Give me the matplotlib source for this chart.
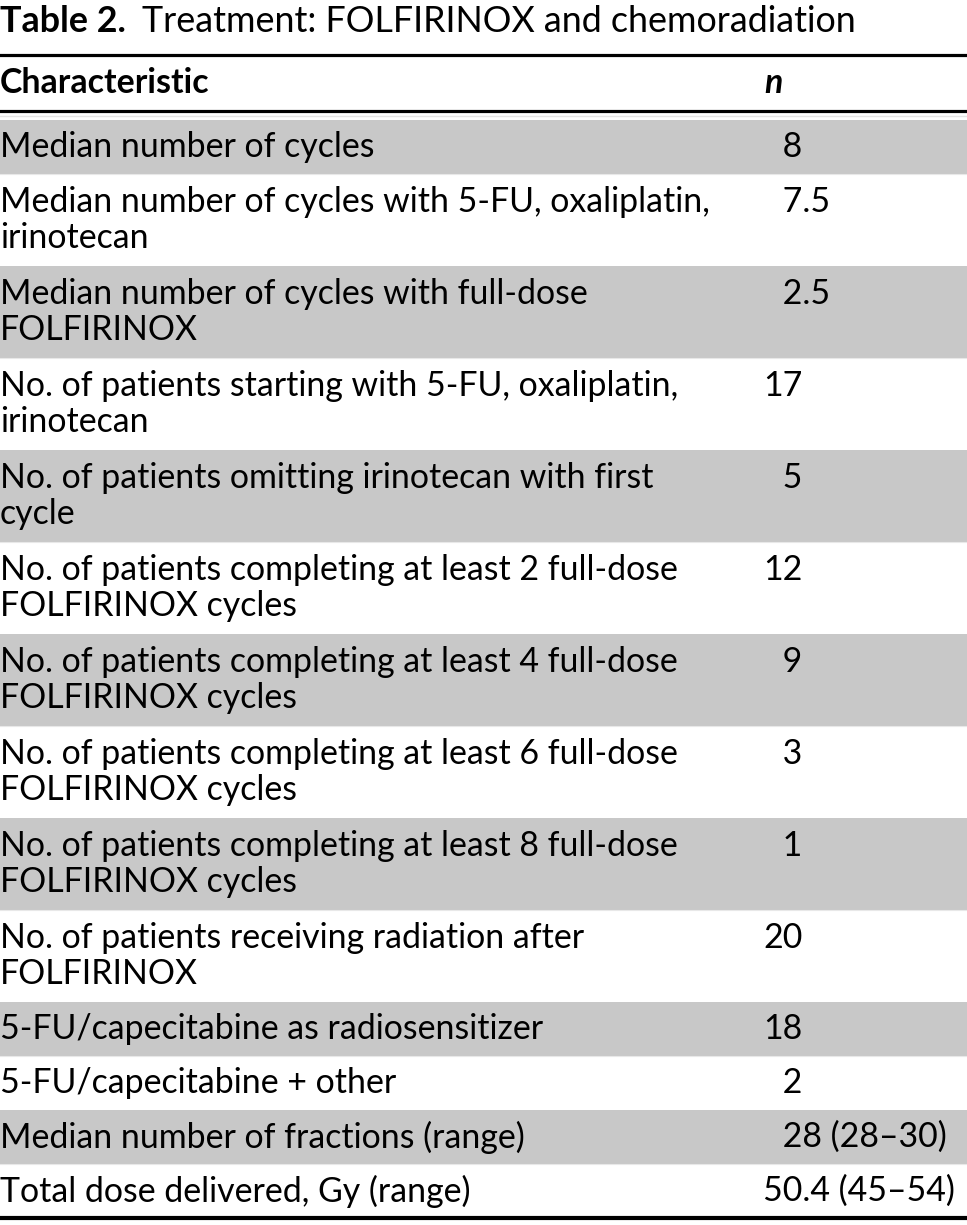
import matplotlib
matplotlib.use('Agg')
import matplotlib.pyplot as plt

TITLE_BOLD = 'Table 2.'
TITLE_REST = 'Treatment: FOLFIRINOX and chemoradiation'
HEADERS = ['Characteristic', 'n']

characteristics = [
    'Median number of cycles',
    'Median number of cycles with 5-FU, oxaliplatin,\nirinotecan',
    'Median number of cycles with full-dose\nFOLFIRINOX',
    'No. of patients starting with 5-FU, oxaliplatin,\nirinotecan',
    'No. of patients omitting irinotecan with first\ncycle',
    'No. of patients completing at least 2 full-dose\nFOLFIRINOX cycles',
    'No. of patients completing at least 4 full-dose\nFOLFIRINOX cycles',
    'No. of patients completing at least 6 full-dose\nFOLFIRINOX cycles',
    'No. of patients completing at least 8 full-dose\nFOLFIRINOX cycles',
    'No. of patients receiving radiation after\nFOLFIRINOX',
    '5-FU/capecitabine as radiosensitizer',
    '5-FU/capecitabine + other',
    'Median number of fractions (range)',
    'Total dose delivered, Gy (range)',
]
n_values = [
    '\u20078', '\u20077.5', '\u20072.5', '17', '\u20075', '12', '\u20079',
    '\u20073', '\u20071', '20', '18', '\u20072', '\u200728 (28\u201330)',
    '50.4 (45\u201354)',
]

W, H = 967, 1225
FONT = ['Lato', 'DejaVu Sans']
GRAY = '#c8c8c8'

fig = plt.figure(figsize=(W / 100, H / 100), dpi=100)
ax = fig.add_axes([0, 0, 1, 1])
ax.set_xlim(0, W)
ax.set_ylim(H, 0)
ax.axis('off')

# fit font size so the longest wrapped line is ~678 px wide
renderer = fig.canvas.get_renderer()
probe = ax.text(0, 0, 'No. of patients completing at least 2 full-dose',
                fontsize=20, family=FONT)
w = probe.get_window_extent(renderer).width
probe.remove()
fs = 20 * 678 / w
fs_title = fs * 1.06

# title
t1 = ax.text(0, 21, TITLE_BOLD, fontsize=fs_title, weight='bold', family=FONT, va='center')
bb = t1.get_window_extent(renderer)
ax.text(bb.x1 + 16, 21, TITLE_REST, fontsize=fs_title, family=FONT, va='center')

# rules + header
ax.axhline(55, color='black', lw=2.3)
ax.text(0, 83, HEADERS[0], fontsize=fs, weight='bold', family=FONT, va='center')
ax.text(764, 83, HEADERS[1], fontsize=fs, weight='bold', style='italic',
        family=FONT, va='center')
ax.axhline(111, color='black', lw=2.3)
ax.axhline(116, color='#e4e4e4', lw=1)

# rows
y = 120
line_gap = 1.09 * 37 / (fs * 100 / 72)
for i, (label, val) in enumerate(zip(characteristics, n_values)):
    nlines = label.count('\n') + 1
    h = 54 if nlines == 1 else 92
    if i % 2 == 0:
        ax.axhspan(y, y + h, color=GRAY, lw=0)
    else:
        ax.axhline(y, color='#e8e8e8', lw=0.8)
    ymid = y + h / 2
    ax.text(0, ymid, label, fontsize=fs, family=FONT, va='center', ha='left',
            linespacing=line_gap)
    vy = ymid if nlines == 1 else ymid - 18.5
    ax.text(763, vy, val, fontsize=fs, family=FONT, va='center', ha='left')
    y += h

ax.axhline(y, color='black', lw=3)

fig.savefig('out.png', dpi=100)
